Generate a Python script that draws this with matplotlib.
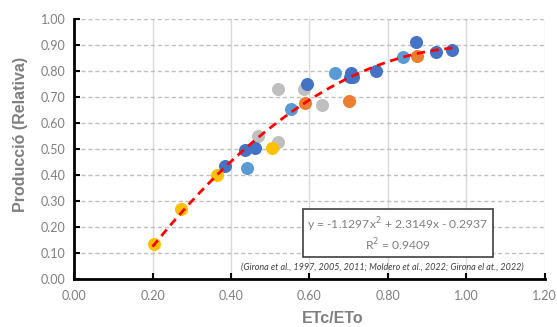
import numpy as np
import matplotlib.pyplot as plt

# dati (ETc/ETo, produzione relativa)
x_yellow = [0.204, 0.273, 0.365, 0.504]
y_yellow = [0.135, 0.269, 0.401, 0.503]
x_dblue = [0.384, 0.436, 0.461, 0.593, 0.705, 0.703, 0.710, 0.769, 0.871, 0.924, 0.963]
y_dblue = [0.436, 0.496, 0.503, 0.749, 0.794, 0.776, 0.778, 0.801, 0.910, 0.873, 0.881]
x_lblue = [0.442, 0.554, 0.664, 0.839]
y_lblue = [0.428, 0.655, 0.794, 0.853]
x_gray = [0.470, 0.521, 0.521, 0.587, 0.631]
y_gray = [0.550, 0.526, 0.731, 0.730, 0.669]
x_orange = [0.590, 0.701, 0.875]
y_orange = [0.676, 0.685, 0.858]

# coefficienti della regressione polinomiale
coef = [-1.1297, 2.3149, -0.2937]
fit_range = [0.2, 0.965]

plt.rcParams['font.family'] = ['Lato', 'DejaVu Sans']

fig = plt.figure(figsize=(5.57, 3.27), dpi=100)
ax = fig.add_axes([0.133, 0.147, 0.845, 0.795])

ms = 70
ax.scatter(x_gray, y_gray, s=ms, color='#BFBFBF', zorder=3)
ax.scatter(x_lblue, y_lblue, s=ms, color='#5B9BD5', zorder=3)
ax.scatter(x_orange, y_orange, s=ms, color='#ED7D31', zorder=3)
ax.scatter(x_yellow, y_yellow, s=ms, color='#FFC000', zorder=3)
ax.scatter(x_dblue, y_dblue, s=ms, color='#4472C4', zorder=3)

xf = np.linspace(fit_range[0], fit_range[1], 100)
ax.plot(xf, np.polyval(coef, xf), color='#FF0000', ls=(0, (3, 2)), lw=2, zorder=4)

ax.set_xlim(0, 1.2)
ax.set_ylim(0, 1.0)
ax.set_xticks(np.arange(0, 1.21, 0.2))
ax.set_yticks(np.arange(0, 1.01, 0.1))
ax.xaxis.set_major_formatter(plt.FormatStrFormatter('%.2f'))
ax.yaxis.set_major_formatter(plt.FormatStrFormatter('%.2f'))
ax.tick_params(direction='in', length=4, width=1.5, colors='black',
               labelcolor='#7F7F7F', labelsize=9)
ax.tick_params(axis='x', pad=8)
ax.tick_params(axis='y', pad=6)

ax.xaxis.grid(True, color='#D9D9D9', lw=1, ls='-')
ax.yaxis.grid(True, color='#BFBFBF', lw=1, ls=(0, (3, 2)))
ax.set_axisbelow(True)

for s in ['top', 'right']:
    ax.spines[s].set_visible(False)
for s in ['left', 'bottom']:
    ax.spines[s].set_linewidth(2)
    ax.spines[s].set_zorder(5)

lab = dict(fontsize=11.5, fontweight='bold', color='#7F7F7F', family=['Liberation Sans', 'DejaVu Sans'])
ax.set_xlabel('ETc/ETo', **lab)
ax.xaxis.set_label_coords(0.55, -0.124)
ax.set_ylabel('Producció (Relativa)', **lab)
ax.yaxis.set_label_coords(-0.098, 0.555)

ax.text(0.825, 0.172, 'y = -1.1297x$^2$ + 2.3149x - 0.2937\nR$^2$ = 0.9409',
        ha='center', va='center', fontsize=8.7, color='#7F7F7F', linespacing=1.2,
        bbox=dict(boxstyle='square,pad=0.35', fc='white', ec='#404040', lw=1.2), zorder=6)
ax.text(0.787, 0.047, '(Girona et al., 1997, 2005, 2011; Moldero et al., 2022; Girona el at., 2022)',
        ha='center', va='center', fontsize=6.5, style='italic', color='#404040', zorder=6)

fig.savefig('out.png', dpi=100)
